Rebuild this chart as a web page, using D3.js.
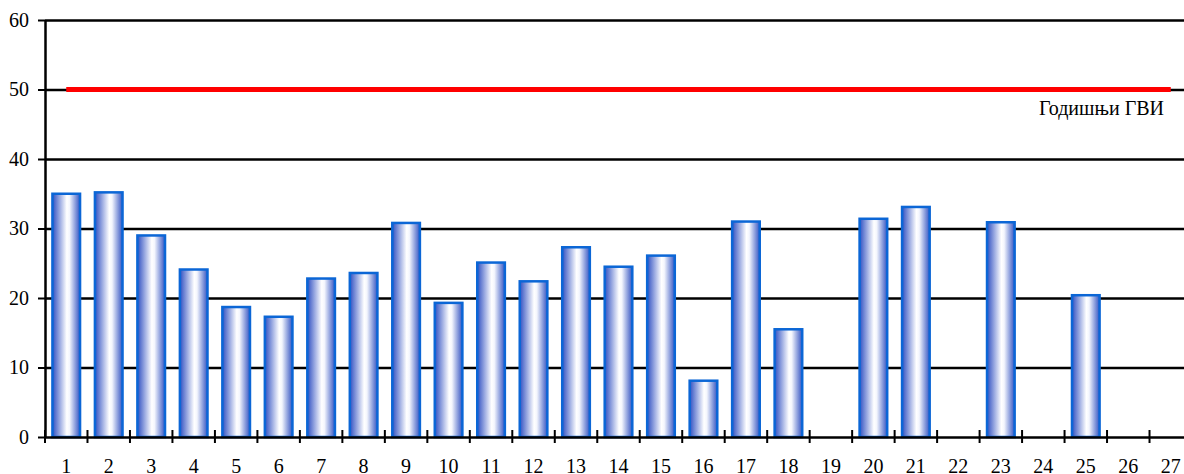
<!DOCTYPE html>
<html>
<head>
<meta charset="utf-8">
<script src="https://cdn.jsdelivr.net/npm/d3@7"></script>
<style>
  body { margin: 0; background: #fff; }
  svg { display: block; overflow: hidden; }
</style>
</head>
<body>
<div id="chart"></div>
<script>
// station numbers along the x axis
let stations = ["1","2","3","4","5","6","7","8","9","10","11","12","13","14","15","16","17","18","19","20","21","22","23","24","25","26","27"];
// annual mean values (null = no measurement)
let values = [35.0, 35.2, 29.0, 24.1, 18.7, 17.3, 22.8, 23.6, 30.8, 19.3, 25.1, 22.4, 27.3, 24.5, 26.1, 8.1, 31.0, 15.5, null, 31.4, 33.1, null, 30.9, null, 20.4, null, null];
// y ticks
let yTicks = [0, 10, 20, 30, 40, 50, 60];
// annual limit value
let limitValue = 50;
let limitLabel = "Годишњи ГВИ";

let W = 1184, H = 474;
let margin = {top: 20, right: -8, bottom: 37, left: 45},
    width = W - margin.left - margin.right,
    height = H - margin.top - margin.bottom;

let serif = "'Liberation Serif'";
let fontSize = 20;

let svg = d3.select("#chart")
    .append("svg")
    .attr("width", W)
    .attr("height", H);

let defs = svg.append("defs");
let grad = defs.append("linearGradient")
    .attr("id", "barGrad")
    .attr("x1", "0%").attr("x2", "100%")
    .attr("y1", "0%").attr("y2", "0%");
grad.append("stop").attr("offset", "0%").attr("stop-color", "#3050c2");
grad.append("stop").attr("offset", "52%").attr("stop-color", "#ffffff");
grad.append("stop").attr("offset", "62%").attr("stop-color", "#f4f6fd");
grad.append("stop").attr("offset", "100%").attr("stop-color", "#3454c2");

let g = svg.append("g")
    .attr("transform", "translate(" + margin.left + "," + margin.top + ")");

// scales
let pad = 0.35;
let x = d3.scaleBand()
    .domain(stations)
    .range([0, width])
    .paddingInner(pad)
    .paddingOuter(pad / 2);

let y = d3.scaleLinear()
    .domain([0, 60])
    .range([height, 0]);

// gridlines
g.append("g")
    .attr("class", "grid")
    .call(d3.axisLeft(y)
        .tickValues(yTicks.filter(d => d > 0))
        .tickFormat("")
        .tickSize(-width)
        .tickSizeOuter(0))
    .call(s => s.select(".domain").remove())
    .call(s => s.selectAll("line").attr("stroke", "#000").attr("stroke-width", 2.5));

// bars
g.append("g")
    .selectAll("rect")
    .data(stations.map((s, i) => ({station: s, value: values[i]})).filter(d => d.value != null))
    .enter()
    .append("rect")
    .attr("x", d => x(d.station))
    .attr("y", d => y(d.value))
    .attr("width", x.bandwidth())
    .attr("height", d => height - y(d.value))
    .attr("fill", "url(#barGrad)")
    .attr("stroke", "#0b66d6")
    .attr("stroke-width", 2.5);

// limit line
let cx = d => x(d) + x.bandwidth() / 2;
g.append("line")
    .attr("x1", cx(stations[0]))
    .attr("x2", cx(stations[stations.length - 1]))
    .attr("y1", y(limitValue))
    .attr("y2", y(limitValue))
    .attr("stroke", "#ff0000")
    .attr("stroke-width", 5);

g.append("text")
    .attr("x", 1164 - margin.left)
    .attr("y", y(limitValue) + 25.5)
    .attr("text-anchor", "end")
    .attr("font-family", serif)
    .attr("font-size", fontSize)
    .attr("fill", "#000")
    .text(limitLabel);

// y axis
g.append("g")
    .call(d3.axisLeft(y)
        .tickValues(yTicks)
        .tickSize(7)
        .tickPadding(9)
        .tickSizeOuter(0))
    .attr("font-family", serif)
    .attr("font-size", fontSize)
    .call(s => s.select(".domain").attr("stroke-width", 2.5))
    .call(s => s.selectAll("line").attr("stroke-width", 2))
    .call(s => s.selectAll("text").attr("fill", "#000"));

// x axis labels
g.append("g")
    .attr("transform", "translate(0," + height + ")")
    .call(d3.axisBottom(x).tickSize(0).tickPadding(22))
    .attr("font-family", serif)
    .attr("font-size", fontSize)
    .call(s => s.select(".domain").attr("stroke-width", 2.5))
    .call(s => s.selectAll("text").attr("fill", "#000"));

// x tick marks on the band boundaries
let step = x.step();
let bounds = stations.map(d => x(d) - step * pad / 2).concat([width]);
g.append("g")
    .selectAll("line")
    .data(bounds)
    .enter()
    .append("line")
    .attr("x1", d => d).attr("x2", d => d)
    .attr("y1", height - 7).attr("y2", height + 6)
    .attr("stroke", "#000")
    .attr("stroke-width", 2);
</script>
</body>
</html>
